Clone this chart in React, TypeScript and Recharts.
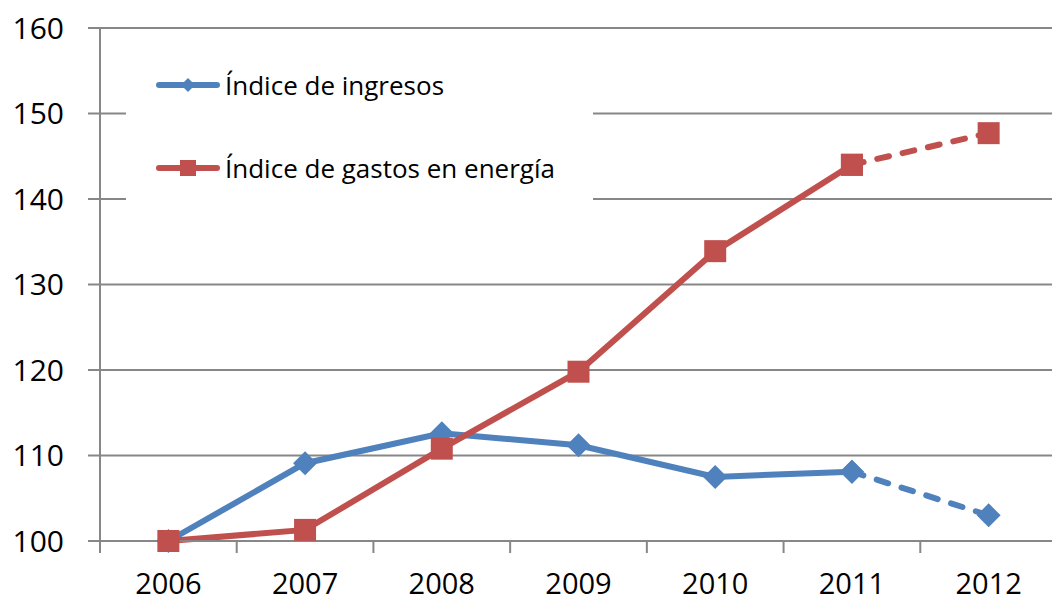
import React from 'react';
import { LineChart, Line, XAxis, YAxis, CartesianGrid } from 'recharts';

// datos (2012 = estimación, tramo discontinuo)
const years = ['2006', '2007', '2008', '2009', '2010', '2011', '2012'];
const ingresos = [100, 109.1, 112.6, 111.2, 107.5, 108.1, 103.0];
const gastosEnergia = [100, 101.3, 110.8, 119.8, 133.9, 144.0, 147.7];
const yTicks = [100, 110, 120, 130, 140, 150, 160];
const lastReal = 5;

const BLUE = '#4F81BD';
const RED = '#C0504D';
const GRID = '#878787';
const FONT = '"Open Sans", sans-serif';

const data = years.map((y, i) => ({
  year: y,
  ingresos: i <= lastReal ? ingresos[i] : null,
  ingresosEst: i >= lastReal ? ingresos[i] : null,
  gastos: i <= lastReal ? gastosEnergia[i] : null,
  gastosEst: i >= lastReal ? gastosEnergia[i] : null,
}));

const CHART_W = 1070;
const CHART_H = 601;
const MARGIN = { top: 28, right: 13, bottom: 0, left: 0 };
const Y_W = 100;
const BAND = (CHART_W - MARGIN.left - MARGIN.right - Y_W) / years.length;

const Diamond = ({ cx, cy, color, size }: any) => {
  if (cx == null || cy == null) return null;
  const r = size;
  return <polygon points={`${cx},${cy - r} ${cx + r},${cy} ${cx},${cy + r} ${cx - r},${cy}`} fill={color} />;
};

const Square = ({ cx, cy, color, size }: any) => {
  if (cx == null || cy == null) return null;
  return <rect x={cx - size / 2} y={cy - size / 2} width={size} height={size} fill={color} />;
};

const diamondDot = (props: any) => (
  <Diamond key={`d-${props.index}`} cx={props.cx} cy={props.cy} color={BLUE} size={12} />
);
const squareDot = (props: any) => (
  <Square key={`s-${props.index}`} cx={props.cx} cy={props.cy} color={RED} size={22} />
);

const XTick = ({ x, y, payload }: any) => {
  const axisY = y - 20 - 12;
  const left = x - BAND / 2;
  return (
    <g>
      <line x1={left} x2={left} y1={axisY} y2={axisY + 12} stroke={GRID} strokeWidth={2} />
      {payload.index === years.length - 1 && (
        <line x1={left + BAND} x2={left + BAND} y1={axisY} y2={axisY + 12} stroke={GRID} strokeWidth={2} />
      )}
      <text x={x} y={y} dy="0.71em" textAnchor="middle" fill="#000" fontSize={29} fontFamily={FONT}>
        {payload.value}
      </text>
    </g>
  );
};

const LegendIcon = ({ color, marker }: { color: string; marker: 'diamond' | 'square' }) => (
  <svg width={64} height={24} style={{ display: 'block' }}>
    <line x1={3} x2={61} y1={12} y2={12} stroke={color} strokeWidth={6} strokeLinecap="round" />
    {marker === 'diamond' ? <Diamond cx={32} cy={12} size={7} color={color} /> : <Square cx={32} cy={12} size={16} color={color} />}
  </svg>
);

const legendItems = [
  { label: 'Índice de ingresos', color: BLUE, marker: 'diamond' as const, top: 31 },
  { label: 'Índice de gastos en energía', color: RED, marker: 'square' as const, top: 114 },
];

export default function App() {
  return (
    <div style={{ position: 'absolute', left: 0, top: 0, width: 1052, height: 601, overflow: 'hidden', background: '#fff' }}>
      <LineChart width={CHART_W} height={CHART_H} data={data} margin={MARGIN}>
        <CartesianGrid vertical={false} stroke={GRID} strokeWidth={2} />
        <XAxis
          dataKey="year"
          height={60}
          padding={{ left: BAND / 2, right: BAND / 2 }}
          axisLine={{ stroke: GRID, strokeWidth: 2 }}
          tickLine={false}
          tickSize={12}
          tickMargin={20}
          tick={<XTick />}
          interval={0}
        />
        <YAxis
          domain={[100, 160]}
          ticks={yTicks}
          width={Y_W}
          axisLine={{ stroke: GRID, strokeWidth: 2 }}
          tickLine={{ stroke: GRID, strokeWidth: 2 }}
          tickSize={12}
          tickMargin={24}
          tick={{ fill: '#000', fontSize: 30, fontFamily: FONT }}
        />
        <Line dataKey="ingresos" stroke={BLUE} strokeWidth={6} dot={diamondDot} isAnimationActive={false} />
        <Line dataKey="ingresosEst" stroke={BLUE} strokeWidth={6} strokeDasharray="12 14" strokeLinecap="round" dot={diamondDot} isAnimationActive={false} />
        <Line dataKey="gastos" stroke={RED} strokeWidth={6} dot={squareDot} isAnimationActive={false} />
        <Line dataKey="gastosEst" stroke={RED} strokeWidth={6} strokeDasharray="12 14" strokeLinecap="round" dot={squareDot} isAnimationActive={false} />
      </LineChart>
      <div style={{ position: 'absolute', left: 126, top: 40, width: 467, height: 165, background: '#fff' }}>
        {legendItems.map((it) => (
          <div key={it.label} style={{ position: 'absolute', left: 30, top: it.top, display: 'flex', alignItems: 'center' }}>
            <LegendIcon color={it.color} marker={it.marker} />
            <span style={{ fontFamily: FONT, fontSize: 26, color: '#000', marginLeft: 5, lineHeight: '28px' }}>{it.label}</span>
          </div>
        ))}
      </div>
    </div>
  );
}
